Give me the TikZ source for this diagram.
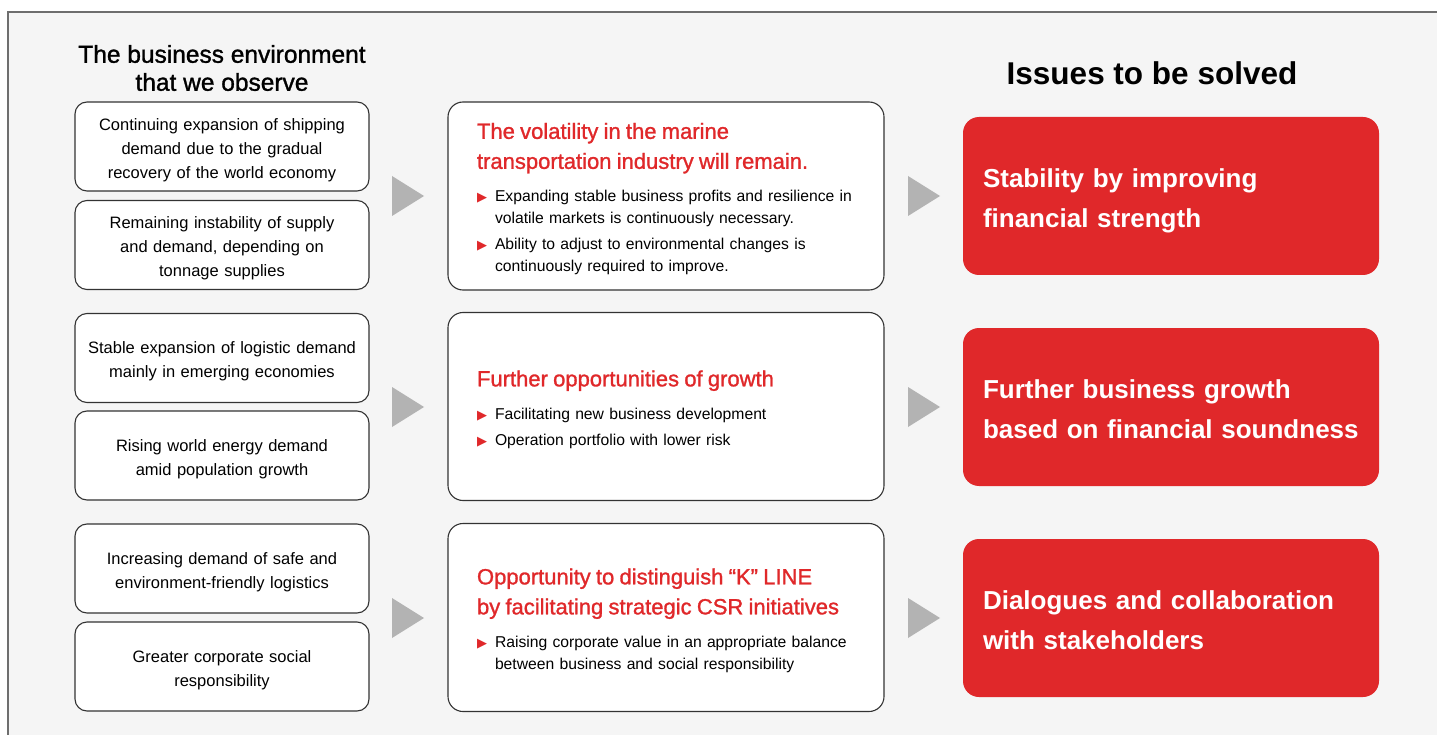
\documentclass[tikz,border=0pt]{standalone}
\usepackage{fontspec}
\setmainfont{Liberation Sans}
\newfontfamily\medfont[FakeBold=1.2]{Liberation Sans}
\newfontfamily\symfont{DejaVu Sans}
\usepackage{xcolor}
\usetikzlibrary{positioning}

\definecolor{kred}{HTML}{E0282A}
\definecolor{bgfill}{HTML}{F5F5F5}
\definecolor{frameline}{HTML}{6E6E6E}
\definecolor{boxline}{HTML}{333333}
\definecolor{pointergray}{HTML}{B3B3B3}

\newcommand{\kpoint}[1]{\vspace{4pt}\hangindent=18pt\hangafter=1\noindent\makebox[18pt][l]{\textcolor{kred}{\symfont\fontsize{13}{13}\selectfont ▶}}#1\par}
\newcommand{\khead}[1]{{\color{kred}\medfont\fontsize{22}{30}\selectfont #1\par}\vspace{7pt}}

\tikzset{
  envbox/.style={draw=boxline, fill=white, line width=1.1pt, rounded corners=12pt,
    minimum width=294pt, minimum height=89pt, text width=284pt, align=center,
    font=\fontsize{16.5}{24}\selectfont, execute at end node={\par\vspace{-7pt}}},
  viewbox/.style={draw=boxline, fill=white, line width=1.1pt, rounded corners=15pt,
    minimum width=436pt, minimum height=188pt, inner xsep=29pt, text width=378pt,
    align=left, font=\fontsize{15.7}{22}\selectfont, execute at end node={\par\vspace{-6pt}}},
  issuebox/.style={fill=kred, rounded corners=16pt, minimum width=416pt, minimum height=158pt,
    inner xsep=20pt, text width=376pt, align=left, text=white,
    font=\fontsize{26}{40}\selectfont\bfseries, execute at end node={\strut\par\vspace{-17pt}}},
  pointer/.style={fill=pointergray}
}

\begin{document}
\begin{tikzpicture}[x=1pt,y=-1pt]
\useasboundingbox (0,0) rectangle (1437,735);
\fill[bgfill] (8,12) rectangle (1437,735);
\draw[frameline, line width=2pt] (8,735) -- (8,12) -- (1437,12);

% headings
\node[align=center, font=\medfont\fontsize{24.5}{28}\selectfont] (envtitle) at (222,68) {The business environment\\that we observe};
\node[font=\fontsize{31.5}{36}\selectfont\bfseries] (issuetitle) at (1152,73) {Issues to be solved};

% business environment
\node[envbox] (env1) at (222,146.5) {Continuing expansion of shipping\\demand due to the gradual\\recovery of the world economy};
\node[envbox] (env2) at (222,245) {Remaining instability of supply\\and demand, depending on\\tonnage supplies};
\node[envbox] (env3) at (222,358) {Stable expansion of logistic demand\\mainly in emerging economies};
\node[envbox] (env4) at (222,455.5) {Rising world energy demand\\amid population growth};
\node[envbox] (env5) at (222,568.5) {Increasing demand of safe and\\environment-friendly logistics};
\node[envbox] (env6) at (222,666.5) {Greater corporate social\\responsibility};

% outlook
\node[viewbox] (view1) at (666,196) {\khead{The volatility in the marine\\transportation industry will remain.}%
\kpoint{Expanding stable business profits and resilience in\newline volatile markets is continuously necessary.}%
\kpoint{Ability to adjust to environmental changes is\newline continuously required to improve.}};
\node[viewbox] (view2) at (666,406.5) {\khead{Further opportunities of growth}%
\kpoint{Facilitating new business development}%
\kpoint{Operation portfolio with lower risk}};
\node[viewbox] (view3) at (666,617.5) {\khead{Opportunity to distinguish “K” LINE\\by facilitating strategic CSR initiatives}%
\kpoint{Raising corporate value in an appropriate balance\newline between business and social responsibility}};

% issues
\node[issuebox] (issue1) at (1171,196) {Stability by improving\\financial strength};
\node[issuebox] (issue2) at (1171,407) {Further business growth\\based on financial soundness};
\node[issuebox] (issue3) at (1171,618) {Dialogues and collaboration\\with stakeholders};

% pointers
\foreach \y in {196,407,618} {
  \fill[pointer] (392,\y-20) -- (392,\y+20) -- (424,\y) -- cycle;
  \fill[pointer] (908,\y-20) -- (908,\y+20) -- (940,\y) -- cycle;
}
\end{tikzpicture}
\end{document}
